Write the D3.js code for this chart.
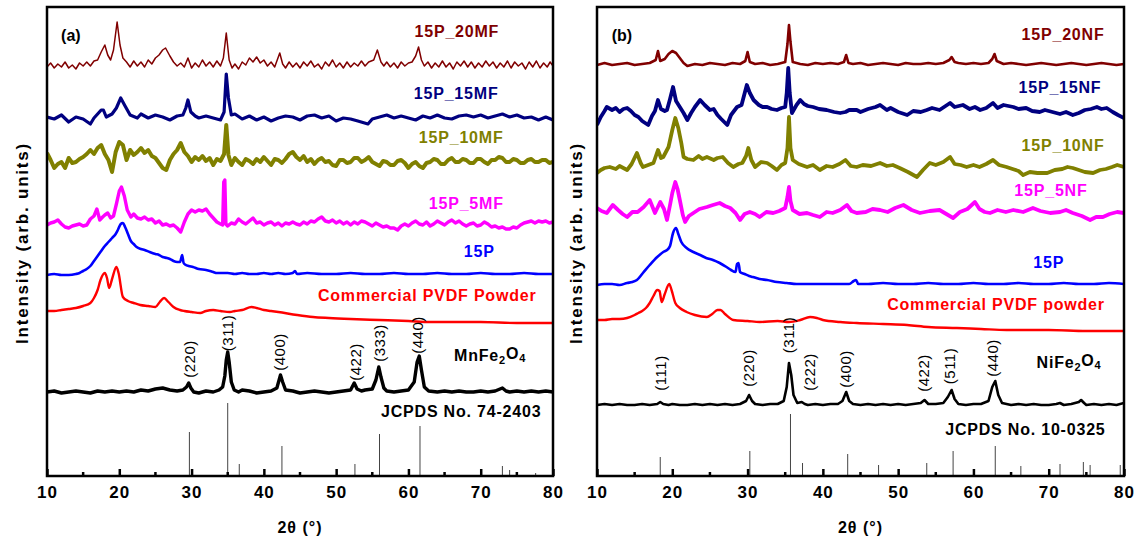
<!DOCTYPE html>
<html>
<head>
<meta charset="utf-8">
<title>XRD patterns</title>
<script src="https://d3js.org/d3.v7.min.js"></script>
<style>
  body { margin: 0; padding: 0; background: #fff; }
  text { font-family: Arial, "Liberation Sans", sans-serif; }
</style>
</head>
<body>
<svg id="svg" width="1138" height="540"></svg>
<script>
// ---- axis ticks ----
const xTicks = [10, 20, 30, 40, 50, 60, 70, 80];
const xMinor = [15, 25, 35, 45, 55, 65, 75];

// ---- panel (a): MnFe2O4 series, [2theta, intensity above own baseline] ----
const mf20 = [[10,-1],[10.5,3],[11,-2],[11.5,2],[12,-1],[12.5,4],[13,-2],[13.5,1],[14,-3],[14.5,3],[15,0],[15.5,4],[16,0],[16.5,5],[17,6],[17.5,14],[18,21],[18.4,11],[18.8,6],[19.2,16],[19.7,44],[20.1,21],[20.5,8],[21,4],[21.5,-1],[22,5],[22.5,0],[23,4],[23.5,-1],[24,6],[24.5,2],[25,8],[25.5,11],[26,16],[26.4,18],[27,10],[27.5,4],[28,0],[28.5,3],[29,-1],[29.5,8],[30,-2],[30.5,3],[31,-1],[31.5,6],[32,0],[32.5,4],[33,-1],[33.5,5],[34,0],[34.4,8],[34.8,33],[35.2,6],[35.6,-2],[36,2],[36.5,-3],[37,4],[37.5,1],[38,8],[38.5,4],[39,9],[39.5,3],[40,6],[40.5,0],[41,4],[41.5,-1],[42.2,13],[42.6,2],[43,-2],[43.5,4],[44,-1],[44.5,3],[45,-2],[45.5,4],[46,0],[46.5,5],[47,-1],[47.5,2],[48,-3],[48.5,4],[49,0],[49.5,6],[50,-1],[50.5,3],[51,-2],[51.5,4],[52,-1],[52.5,3],[53,0],[53.5,5],[54,0],[54.5,4],[55.2,6],[55.7,16],[56.2,4],[56.6,0],[57,4],[57.5,-1],[58,3],[58.5,-2],[59,4],[59.5,0],[60,3],[60.5,4],[61,10],[61.4,19],[61.8,6],[62.2,0],[62.7,4],[63.2,-2],[63.7,3],[64.2,-1],[64.7,5],[65.2,-1],[65.7,3],[66.2,-3],[66.7,4],[67.2,0],[67.7,5],[68.2,-1],[68.7,4],[69.2,-2],[69.7,3],[70.2,-1],[70.7,5],[71.2,0],[71.7,4],[72.2,-2],[72.7,3],[73.2,-1],[73.7,5],[74.2,-2],[74.7,4],[75.2,0],[75.7,3],[76.2,-3],[76.7,4],[77.2,-1],[77.7,5],[78.2,-2],[78.7,3],[79.2,-1],[79.6,4],[80,0]];
const mf15 = [[10,1],[11,-1],[12,3],[13,-4],[14,1],[15,-1],[16,-6],[16.5,0],[17.5,8],[17.8,8],[18.2,1],[19,4],[19.6,10],[20.2,20],[20.8,12],[21.5,3],[22.5,0],[23,4],[24,0],[25,3],[26,1],[27,-2],[28,2],[28.8,3],[29.2,10],[29.5,18],[29.9,6],[30.5,2],[31,0],[32,2],[33,0],[34,-2],[34.5,6],[34.8,44],[35.1,20],[35.5,3],[36,4],[37,-1],[38,2],[39,-2],[40,1],[41,-3],[42,0],[43,2],[44,1],[45,-2],[46,2],[47,3],[48,0],[49,2],[50,-3],[51,0],[52,-1],[53,-3],[54.4,-6],[55,-1],[56,1],[57,3],[58,0],[59,2],[60,0],[61,-2],[62,2],[63,0],[64,3],[65,0],[66,-1],[67,2],[68,3],[69,1],[70,3],[71,0],[72,2],[73,4],[74,1],[75,3],[76,0],[77,1],[78,-2],[79,1],[80,-2]];
const mf10 = [[10,9],[10.5,2],[11,-6],[11.5,-2],[12,0],[12.5,-6],[13,4],[13.5,-1],[14,0],[14.5,3],[15,5],[15.5,8],[16,12],[16.5,8],[17,14],[17.5,17],[18,8],[18.5,2],[19,-10],[19.5,10],[20,20],[20.5,17],[21,2],[21.5,12],[22,7],[22.5,10],[23,14],[23.5,9],[24,12],[24.5,6],[25,4],[25.5,-1],[26,-6],[26.5,-8],[27,2],[27.5,8],[28,12],[28.5,19],[29,10],[29.5,6],[30,0],[30.5,5],[31,2],[31.5,6],[32,1],[32.5,4],[33,-3],[33.5,3],[34,1],[34.5,8],[34.8,37],[35.1,7],[35.5,-3],[36,4],[36.5,0],[37,-3],[37.5,3],[38,1],[38.5,-2],[39,3],[39.5,0],[40,5],[40.5,1],[41,-3],[41.5,3],[42,2],[42.5,-1],[43,3],[43.5,8],[44,10],[44.5,5],[45,2],[45.5,6],[46,0],[46.5,3],[47,-2],[47.5,2],[48,4],[48.5,0],[49,1],[49.5,-3],[50,-4],[50.5,2],[51,2],[51.5,-1],[52,0],[52.5,4],[53,4],[53.5,0],[54,2],[54.5,5],[55,0],[55.5,-2],[56,-4],[56.5,1],[57,0],[57.5,-3],[58,-3],[58.5,1],[59,2],[59.5,-1],[60,-6],[60.5,-2],[61,0],[61.5,-4],[62,-6],[62.5,-1],[63,0],[63.5,3],[64,2],[64.5,-2],[65,-2],[65.5,2],[66,4],[66.5,0],[67,0],[67.5,3],[68,2],[68.5,-1],[69,-1],[69.5,3],[70,3],[70.5,0],[71,-2],[71.5,2],[72,2],[72.5,5],[73,4],[73.5,0],[74,0],[74.5,3],[75,2],[75.5,-1],[76,-1],[76.5,2],[77,3],[77.5,0],[78,0],[78.5,2],[79,2],[79.5,-1],[80,0]];
const mf5 = [[10,-1],[10.5,1],[11,2],[11.5,4],[12,0],[12.5,-3],[13,-4],[13.5,-2],[14,-1],[14.5,0],[15,-2],[15.5,-1],[16,5],[16.5,8],[16.9,15],[17.3,4],[17.7,7],[18,9],[18.4,11],[18.8,6],[19.2,8],[19.6,20],[20,33],[20.3,37],[20.7,28],[21.1,14],[21.6,7],[22,10],[22.5,6],[23,5],[23.5,7],[24,4],[24.5,5],[25,1],[25.5,3],[26,-1],[26.5,0],[27,-2],[27.5,-1],[28,-4],[28.5,-8],[29,2],[29.5,10],[30,14],[30.5,12],[31,14],[31.5,13],[32,15],[32.5,10],[33,6],[33.5,2],[34,0],[34.3,-1],[34.45,42],[34.6,44],[34.75,0],[35,-2],[35.5,1],[36,0],[36.5,5],[37,2],[37.5,0],[38,3],[38.5,6],[39,1],[39.5,2],[40,-1],[40.5,1],[41,2],[41.5,-1],[42,1],[42.5,-2],[43,1],[43.5,0],[44,2],[44.5,0],[45,-1],[45.5,2],[46,0],[46.5,3],[47,2],[47.5,5],[48,7],[48.5,3],[49,2],[49.5,4],[50,1],[50.5,3],[51,0],[51.5,2],[52,-1],[52.5,2],[53,0],[53.5,3],[54,2],[54.5,0],[55,-2],[55.5,1],[56,-1],[56.5,-3],[57,-2],[57.5,-4],[58,-4],[58.5,-6],[59,-2],[59.5,0],[60,-2],[60.5,1],[61,3],[61.5,0],[62,-1],[62.5,2],[63,-2],[63.5,0],[64,3],[64.5,1],[65,-1],[65.5,2],[66,4],[66.5,1],[67,3],[67.5,0],[68,-2],[68.5,0],[69,1],[69.5,-2],[70,-1],[70.5,2],[71,0],[71.5,-3],[72,-2],[72.5,-4],[73,-3],[73.5,-5],[74,-5],[74.5,-3],[75,-4],[75.5,-1],[76,1],[76.5,2],[77,3],[77.5,1],[78,3],[78.5,2],[79,3],[79.5,1],[80,2]];
const p15a = [[10,-1],[11,0],[12,-1],[13,-1],[14,0],[14.5,1],[15,3],[15.5,5],[16,8],[16.5,13],[17,18],[17.5,23],[18,28],[18.5,32],[19,36],[19.5,40],[19.8,44],[20.2,50],[20.5,51],[20.8,47],[21.2,40],[21.6,33],[22,30],[22.4,27],[23,25],[23.5,24],[24.2,22],[25,20],[25.5,19],[26,17],[26.6,16],[27,15],[27.5,13],[28,12],[28.4,12],[28.7,19],[28.9,11],[29.2,9],[29.6,8],[30.2,7],[31,5],[32,4],[33,2],[33.5,1],[34,1],[35,1],[36,0],[37,1],[38,0],[39,0],[40,1],[41,0],[42,1],[43,0],[44,1],[44.3,3],[44.6,0],[46,1],[48,0],[50,0],[52,1],[54,0],[56,0],[58,1],[60,0],[62,0],[64,1],[66,0],[68,0],[70,1],[72,0],[74,0],[76,1],[78,0],[80,0]];
const pvdfA = [[10,0],[11,0],[12,1],[13,2],[14,3],[15,5],[16,8],[16.5,13],[17,21],[17.4,31],[18,38],[18.3,33],[18.6,23],[19,32],[19.6,44],[19.9,38],[20.5,14],[21.2,10],[22,8],[22.9,6],[24,5],[25,4],[25.6,9],[26.2,13],[26.8,9],[27.5,4],[28.4,1],[29,0],[30,-1],[31.2,-2],[32,0],[33,1],[34,0],[35.3,-1],[36,0],[37,1],[38.3,4],[39,3],[40,1],[41,0],[42,-1],[44.6,-4],[46.8,-6],[49,-7],[52,-8],[56,-9],[60,-10],[63,-11],[70,-11],[75,-12],[80,-12]];
const mnfe = [[10,0],[11,1],[12,-1],[13,0],[14,1],[15,0],[16,-1],[17,1],[18,0],[19,1],[20,0],[21,1],[22,0],[23,2],[24,1],[25,3],[26,4],[27,2],[28,1],[28.8,2],[29.3,5],[29.6,9],[29.9,4],[30.3,0],[31,-1],[32,1],[33,0],[33.8,2],[34.3,5],[34.6,16],[34.8,32],[35,40],[35.2,30],[35.5,10],[35.9,2],[36.5,0],[37,2],[38,1],[39,-1],[40,0],[41,1],[41.8,4],[42.3,17],[42.6,10],[43,2],[44,1],[45,-1],[46,0],[47,1],[48,0],[49,-1],[50,0],[51,1],[52,2],[52.5,9],[52.9,3],[53.5,1],[54,2],[55,3],[55.5,12],[55.9,25],[56.2,15],[56.6,4],[57,1],[58,0],[59,1],[60,2],[60.8,10],[61.2,30],[61.5,36],[61.8,22],[62.2,5],[62.8,1],[64,0],[65,1],[66,0],[67,1],[68,0],[69,0],[70,1],[71,0],[72,1],[73,4],[73.5,1],[74,0],[75,1],[76,0],[77,1],[78,0],[79,1],[80,0]];

// ---- panel (b): NiFe2O4 series ----
const nf20 = [[10,-1],[11,1],[12,-1],[13,0],[14,1],[15,-1],[16,0],[17,1],[17.8,4],[18.1,13],[18.4,3],[19,5],[19.5,10],[20,13],[20.5,11],[21,6],[21.5,1],[22,-2],[23,0],[24,-1],[25,1],[26,0],[27,-1],[28,1],[29,0],[29.7,3],[30,12],[30.3,2],[31,0],[32,1],[33,-1],[34,0],[35,2],[35.3,20],[35.5,39],[35.7,22],[36,2],[37,0],[38,-1],[39,1],[40,0],[41,1],[42,0],[42.8,2],[43.1,9],[43.4,1],[44,0],[45,1],[46,-1],[47,0],[48,1],[49,0],[50,-1],[51,1],[52,0],[53,0],[54,1],[55,0],[56,1],[56.8,4],[57.1,7],[57.5,2],[58,1],[59,0],[60,1],[61,0],[62,1],[62.5,5],[62.8,10],[63.1,3],[64,0],[65,1],[66,0],[67,-1],[68,0],[69,1],[70,0],[71,-1],[72,0],[73,1],[74,0],[75,-1],[76,0],[77,1],[78,0],[79,-1],[80,0]];
const nf15 = [[10,-12],[10.5,-4],[11,2],[11.3,6],[12,3],[12.5,5],[13,1],[13.5,4],[14,5],[14.5,2],[15,-2],[15.5,-4],[16,-8],[16.8,-12],[17.3,-3],[17.7,2],[18.1,13],[18.5,4],[19,2],[19.3,3],[19.7,14],[20.1,26],[20.5,12],[21,6],[21.5,0],[22,-7],[22.5,0],[23,6],[23.7,13],[24.3,8],[25,3],[25.5,4],[26,-2],[26.5,-6],[27.3,-12],[27.8,-2],[28.6,6],[29.2,8],[29.9,28],[30.3,20],[30.8,13],[31.5,8],[32,6],[32.6,6],[33.2,4],[33.9,3],[34.5,5],[35,6],[35.2,20],[35.4,45],[35.6,20],[35.9,0],[36.5,8],[37,13],[37.5,9],[38,7],[38.7,6],[39.5,4],[40.5,3],[41.5,1],[42.3,0],[43,1],[43.5,3],[44.5,3],[45,1],[46,4],[47,6],[47.6,8],[48.5,3],[49,5],[50,1],[51.2,-2],[52,2],[53,1],[53.8,3],[54.5,5],[55.5,3],[56.3,7],[56.9,10],[57.5,6],[58.6,8],[59.5,4],[60.2,6],[60.9,3],[61.7,5],[62.6,10],[63.2,5],[64,8],[65.3,6],[66,4],[67,5],[67.8,2],[68.8,1],[69.5,3],[70.5,1],[71.5,-1],[72.3,1],[73.2,-2],[74,0],[74.8,3],[75.6,4],[76.4,6],[77,4],[77.7,5],[78.5,1],[79.2,-2],[80,-5]];
const nf10 = [[10,-5],[10.5,-2],[11,0],[11.7,1],[12.5,-1],[13,2],[14,-2],[14.6,4],[15.3,15],[15.8,5],[16.1,1],[16.8,3],[17.5,5],[18.1,18],[18.5,10],[18.8,11],[19.5,21],[20,38],[20.4,50],[20.8,40],[21.2,25],[21.5,11],[22,9],[22.8,8],[23.5,12],[24,9],[24.6,11],[25.5,8],[26,10],[26.7,11],[27.4,5],[28.1,1],[28.8,4],[29.3,5],[29.8,12],[30.1,20],[30.5,8],[31,1],[31.8,6],[32.6,5],[33.2,2],[33.9,-2],[34.5,3],[35,5],[35.3,20],[35.5,51],[35.7,20],[36,8],[36.8,4],[37.9,1],[38.7,3],[39.6,-2],[40.5,2],[41.3,1],[42.2,4],[43,8],[43.7,2],[44.5,1],[45.3,3],[46.4,2],[47.6,5],[48.5,2],[49.3,3],[50.2,0],[51.3,-4],[52.5,-9],[53.3,-2],[54.2,5],[55,3],[56,6],[56.9,11],[57.5,4],[58.3,3],[59.1,1],[60,3],[60.8,1],[61.7,4],[62.6,8],[63.4,3],[64.4,1],[65.2,-1],[66,-3],[66.6,-7],[67.5,-4],[68.5,-5],[69.8,-5],[70.8,-2],[71.8,-1],[72.5,1],[73.2,0],[74,-2],[74.8,-4],[75.9,-5],[76.8,-2],[77.6,-1],[78.4,1],[79.1,3],[80,1]];
const nf5 = [[10,3],[10.6,0],[11.3,-2],[12.1,6],[12.8,1],[13.4,-3],[14,-6],[14.7,-1],[15.4,-1],[16.2,4],[17,11],[17.7,-2],[18.4,9],[18.9,2],[19.3,-9],[19.7,6],[20,18],[20.4,29],[20.7,22],[21,11],[21.4,-4],[21.7,-11],[22.2,-5],[22.8,-2],[23.6,2],[24.6,4],[25.4,6],[26.3,8],[27,5],[27.7,3],[28.4,-2],[29,-9],[29.6,-3],[30.3,-1],[31,-3],[31.6,-6],[32.5,-1],[33.4,-2],[34.2,0],[35,3],[35.3,14],[35.5,24],[35.7,10],[36,1],[36.9,-3],[37.9,-2],[38.7,-4],[39.6,-6],[40.5,-1],[41.3,-2],[42.3,1],[43.2,6],[43.8,0],[44.5,-2],[45.7,-1],[46.6,2],[47.6,1],[48.6,-1],[49.6,3],[50.7,6],[51.8,1],[52.9,-2],[54.2,0],[55.5,1],[56.4,-3],[57.3,-7],[58.2,-1],[59.2,2],[60.2,9],[60.8,2],[61.5,-1],[62.2,-2],[63.2,1],[64.3,-1],[65.3,1],[66.6,-1],[67.9,3],[68.9,0],[70.2,-2],[71.5,-1],[72.3,1],[73.2,-2],[74.4,-5],[75.5,-9],[76.3,-6],[77.2,-6],[78.1,-3],[79.1,-1],[80,-2]];
const p15b = [[10,-1],[11,0],[12,0],[13,-1],[14,1],[14.7,2],[15.3,4],[16.1,11],[17,19],[18,27],[18.8,32],[19.3,34],[19.7,38],[20.1,51],[20.5,56],[20.8,50],[21.2,42],[21.9,36],[22.8,32],[23.7,29],[24.5,26],[25.4,24],[26.3,21],[27.2,17],[27.8,14],[28.4,12],[28.6,20],[28.8,21],[29,12],[29.6,10],[30.2,8],[30.7,7],[31.6,5],[32.6,4],[33.9,2],[35.2,1],[36.5,0],[38,0],[40,0],[42,0],[43.5,0],[44.1,3],[44.4,4],[44.7,0],[46,0],[48,1],[50,0],[52,0],[54,1],[56,0],[58,0],[60,1],[62,0],[64,0],[66,1],[68,0],[70,0],[72,1],[74,0],[76,0],[78,1],[80,0]];
const pvdfB = [[10,0],[11,0],[12,1],[13,1],[14,2],[15,5],[15.5,7],[16,9],[16.5,12],[17,17],[17.5,24],[18,30],[18.3,29],[18.6,18],[19,26],[19.6,36],[19.9,30],[20.4,17],[21,12],[21.9,8],[23,5],[24.6,3],[25.3,6],[26,10],[26.4,10],[27,6],[28.1,0],[30,-1],[31.6,-2],[34,-1],[35.5,-2],[37,0],[38.3,3],[39.2,2],[40,0],[42.3,-2],[44.5,-3],[48,-4],[51.2,-5],[54,-7],[57.8,-8],[61,-9],[64.4,-10],[70,-10],[75,-11],[80,-11]];
const nife = [[10,0],[11,1],[12,0],[13,1],[14,0],[15,0],[16,1],[17,0],[18,1],[18.4,3],[18.8,1],[19.5,0],[20,1],[21,0],[22,0],[23,1],[24,0],[25,1],[26,0],[27,1],[28,0],[29,1],[29.8,4],[30.2,10],[30.6,4],[31,1],[32,0],[33,1],[34,1],[34.8,4],[35.2,18],[35.5,42],[35.8,30],[36.1,10],[36.6,2],[37.2,3],[37.6,1],[38,0],[39,1],[40,0],[41,1],[42,1],[42.6,4],[43.1,13],[43.5,4],[44,1],[45,0],[46,1],[47,0],[48,1],[49,0],[50,1],[51,0],[52,1],[53,2],[53.5,5],[54,1],[55,1],[56,2],[56.6,8],[57.1,15],[57.5,6],[58,1],[59,0],[60,1],[61,1],[62,4],[62.5,18],[62.9,24],[63.3,10],[63.8,2],[65,0],[66,1],[67,0],[68,1],[69,0],[70,0],[71,1],[71.5,2],[72,0],[73,1],[74,3],[74.3,5],[74.7,2],[75,0],[76,1],[77,0],[78,1],[79,0],[80,2]];

// vertical offsets of the stacked patterns (arb. units)
const offsetsA = [410, 358, 314, 252, 202, 165, 84];
const offsetsB = [412, 363, 308, 265, 192, 156, 71];

// series names and label positions [2theta, intensity]
const namesA = ["15P_20MF", "15P_15MF", "15P_10MF", "15P_5MF", "15P", "Commercial PVDF Powder", "MnFe2O4"];
const namesB = ["15P_20NF", "15P_15NF", "15P_10NF", "15P_5NF", "15P", "Commercial PVDF powder", "NiFe2O4"];
const labelPosA = [[66.7, 445], [66.6, 383], [67.3, 339], [68.0, 273], [69.8, 225], [62.6, 181], [71.3, 121]];
const labelPosB = [[71.9, 442], [71.5, 389], [71.9, 331], [70.3, 286], [70.0, 214], [63.0, 172], [72.7, 114]];

// reference card lines [2theta, relative height]
const cardA = "JCPDS No. 74-2403";
const cardB = "JCPDS No. 10-0325";
const cardPosA = [67.3, 65];
const cardPosB = [66.9, 47];
const sticksA = [[29.7, 44], [35.0, 73], [36.6, 12], [42.5, 30], [52.6, 12], [56.0, 42], [61.6, 50], [73.0, 10], [74.0, 6], [77.6, 3]];
const sticksB = [[18.4, 19], [30.3, 25], [35.7, 62], [37.3, 13], [43.3, 22], [47.4, 11], [53.8, 13], [57.3, 25], [62.9, 30], [66.3, 10], [71.5, 12], [74.6, 14], [75.5, 11], [79.5, 11]];

// Miller indices [label, 2theta, intensity at label centre]
const millerA = [["(220)", 29.8, 117], ["(311)", 35.0, 143], ["(400)", 42.2, 124], ["(422)", 52.7, 114], ["(333)", 56.1, 133], ["(440)", 61.3, 141]];
const millerB = [["(111)", 18.5, 103], ["(220)", 30.1, 108], ["(311)", 35.5, 141], ["(222)", 38.2, 104], ["(400)", 43.1, 107], ["(422)", 53.4, 103], ["(511)", 56.9, 110], ["(440)", 62.5, 118]];

// ---- drawing ----
const svg = d3.select("#svg");
const y = d3.scaleLinear().domain([0, 469]).range([476, 7]);
const colors = ["#800000", "#000080", "#808000", "#ff00ff", "#0000ff", "#ff0000", "#000000"];

const panels = [
    { key: "a", range: [47, 553], letter: "(a)", series: [mf20, mf15, mf10, mf5, p15a, pvdfA, mnfe],
      offsets: offsetsA, names: namesA, labelPos: labelPosA, card: cardA, cardPos: cardPosA,
      sticks: sticksA, miller: millerA, widths: [1.5, 3.2, 4, 3.4, 2.6, 2.4, 3.4], titleX: 22 },
    { key: "b", range: [597, 1124], letter: "(b)", series: [nf20, nf15, nf10, nf5, p15b, pvdfB, nife],
      offsets: offsetsB, names: namesB, labelPos: labelPosB, card: cardB, cardPos: cardPosB,
      sticks: sticksB, miller: millerB, widths: [2.6, 3.8, 3.8, 3.8, 2.6, 2.4, 2.6], titleX: 576 }
];

panels.forEach(p => {
    const x = d3.scaleLinear().domain([10, 80]).range(p.range);
    const g = svg.append("g");

    g.append("clipPath").attr("id", "clip-" + p.key)
        .append("rect")
        .attr("x", x(10)).attr("y", y(469))
        .attr("width", x(80) - x(10)).attr("height", y(0) - y(469));

    const plot = g.append("g").attr("clip-path", `url(#clip-${p.key})`);

    // reference card sticks
    plot.selectAll(".stick")
        .data(p.sticks)
        .enter()
        .append("line")
            .attr("x1", d => x(d[0])).attr("x2", d => x(d[0]))
            .attr("y1", y(0)).attr("y2", d => y(d[1]))
            .attr("stroke", "#444")
            .attr("stroke-width", 1);

    // diffraction patterns
    p.series.forEach((s, i) => {
        const smooth = i === 4 || i === 5;
        const line = d3.line()
            .x(d => x(d[0]))
            .y(d => y(d[1] + p.offsets[i]))
            .curve(smooth ? d3.curveMonotoneX : d3.curveLinear);
        plot.append("path")
            .datum(s)
            .attr("d", line)
            .attr("fill", "none")
            .attr("stroke", colors[i])
            .attr("stroke-width", p.widths[i])
            .attr("stroke-linejoin", "round");
    });

    // series labels
    p.names.forEach((name, i) => {
        const t = g.append("text")
            .attr("x", x(p.labelPos[i][0]))
            .attr("y", y(p.labelPos[i][1]))
            .attr("dy", "0.35em")
            .attr("text-anchor", "middle")
            .attr("fill", colors[i])
            .style("font-size", "16px")
            .style("font-weight", "bold")
            .style("letter-spacing", "0.8px");
        if (name.endsWith("Fe2O4")) {
            t.append("tspan").text(name.slice(0, 4));
            t.append("tspan").text("2").attr("dy", "0.3em").style("font-size", "11px");
            t.append("tspan").text("O").attr("dy", "-0.3em");
            t.append("tspan").text("4").attr("dy", "0.3em").style("font-size", "11px");
        } else {
            t.text(name);
        }
    });

    // reference card label
    g.append("text")
        .attr("x", x(p.cardPos[0]))
        .attr("y", y(p.cardPos[1]))
        .attr("dy", "0.35em")
        .attr("text-anchor", "middle")
        .style("font-size", "16px")
        .style("font-weight", "bold")
        .style("letter-spacing", "0.8px")
        .text(p.card);

    // Miller indices
    g.selectAll(".hkl")
        .data(p.miller)
        .enter()
        .append("text")
            .attr("transform", d => `translate(${x(d[1])},${y(d[2])}) rotate(-90)`)
            .attr("dy", "0.35em")
            .attr("text-anchor", "middle")
            .style("font-size", "15px")
            .style("letter-spacing", "0.5px")
            .text(d => d[0]);

    // panel letter
    g.append("text")
        .attr("x", x(13.3)).attr("y", y(441))
        .attr("dy", "0.35em")
        .attr("text-anchor", "middle")
        .style("font-size", "16px")
        .style("font-weight", "bold")
        .text(p.letter);

    // bottom axis, ticks pointing inward
    const axis = g.append("g")
        .attr("transform", `translate(0,${y(0)})`)
        .call(d3.axisBottom(x).tickValues(xTicks).tickSize(-7).tickPadding(10).tickFormat(d3.format("d")));
    axis.select(".domain").remove();
    axis.selectAll(".tick line").attr("stroke-width", 2.5);
    axis.selectAll("text")
        .attr("fill", "#000")
        .style("font-size", "17px")
        .style("font-weight", "bold")
        .style("letter-spacing", "1px")
        .style("font-family", "Arial, 'Liberation Sans', sans-serif");

    g.selectAll(".minor")
        .data(xMinor)
        .enter()
        .append("line")
            .attr("x1", d => x(d)).attr("x2", d => x(d))
            .attr("y1", y(0)).attr("y2", y(0) - 4)
            .attr("stroke", "#000")
            .attr("stroke-width", 2.5);

    // frame
    g.append("rect")
        .attr("x", x(10)).attr("y", y(469))
        .attr("width", x(80) - x(10)).attr("height", y(0) - y(469))
        .attr("fill", "none")
        .attr("stroke", "#000")
        .attr("stroke-width", 2.5);

    // axis titles
    g.append("text")
        .attr("x", x(45)).attr("y", 533)
        .attr("text-anchor", "middle")
        .style("font-size", "16px")
        .style("font-weight", "bold")
        .style("letter-spacing", "1px")
        .text("2θ (°)");

    g.append("text")
        .attr("transform", `translate(${p.titleX},243) rotate(-90)`)
        .attr("dy", "0.35em")
        .attr("text-anchor", "middle")
        .style("font-size", "17px")
        .style("font-weight", "bold")
        .style("letter-spacing", "1.8px")
        .text("Intensity (arb. units)");
});
</script>
</body>
</html>
